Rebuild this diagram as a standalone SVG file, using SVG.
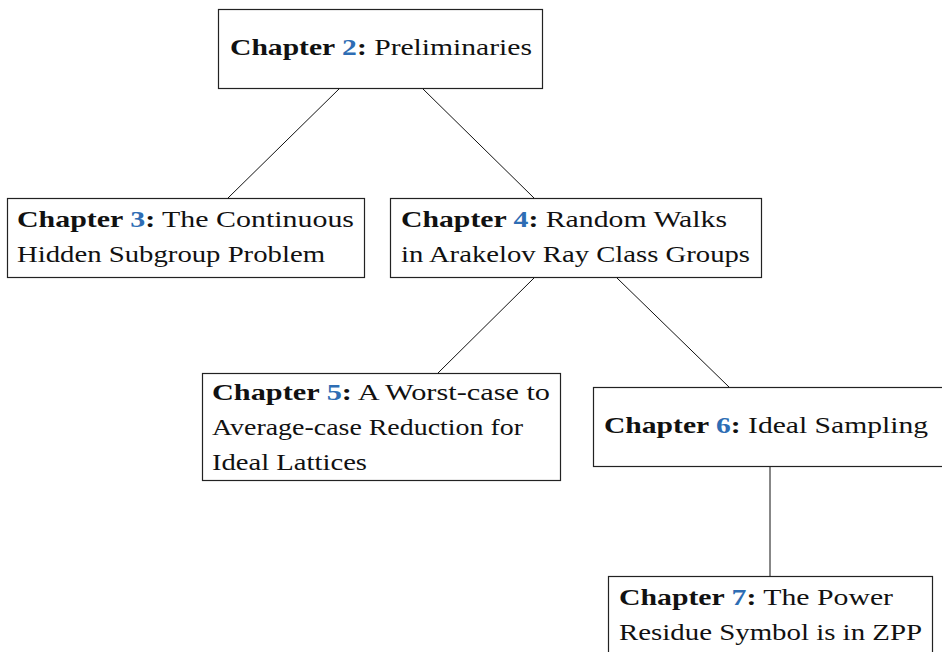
<svg xmlns="http://www.w3.org/2000/svg" width="942" height="652" viewBox="0 0 942 652">
<style>
.box{fill:#fff;stroke:#222;stroke-width:1.2}
.edge{stroke:#111;stroke-width:1;fill:none}
text{font-size:24px;fill:#111}
.b{font-weight:bold}
.n{fill:#2e6db4;font-weight:bold}
</style>
<rect width="942" height="652" fill="#fff"/>
<g id="connectors">
<line class="edge" x1="340" y1="88" x2="228" y2="198"/>
<line class="edge" x1="422" y1="88" x2="534" y2="198"/>
<line class="edge" x1="534" y1="278" x2="438" y2="373"/>
<line class="edge" x1="617" y1="278" x2="729" y2="387"/>
<line class="edge" x1="770" y1="467" x2="770" y2="576"/>
</g>
<g font-family="Liberation Serif, Tinos, serif">
<g id="ch2">
<rect class="box" x="218.5" y="9.5" width="324" height="79"/>
<text x="230" y="55" textLength="302" lengthAdjust="spacingAndGlyphs"><tspan class="b">Chapter </tspan><tspan class="n">2</tspan><tspan class="b">:</tspan> Preliminaries</text>
</g>
<g id="ch3">
<rect class="box" x="7.5" y="198.5" width="357" height="79"/>
<text x="17" y="227" textLength="337" lengthAdjust="spacingAndGlyphs"><tspan class="b">Chapter </tspan><tspan class="n">3</tspan><tspan class="b">:</tspan> The Continuous</text>
<text x="17" y="262" textLength="308" lengthAdjust="spacingAndGlyphs">Hidden Subgroup Problem</text>
</g>
<g id="ch4">
<rect class="box" x="390.5" y="198.5" width="371" height="79"/>
<text x="401" y="227" textLength="326" lengthAdjust="spacingAndGlyphs"><tspan class="b">Chapter </tspan><tspan class="n">4</tspan><tspan class="b">:</tspan> Random Walks</text>
<text x="401" y="262" textLength="349" lengthAdjust="spacingAndGlyphs">in Arakelov Ray Class Groups</text>
</g>
<g id="ch5">
<rect class="box" x="202.5" y="373.5" width="358" height="107"/>
<text x="212" y="400" textLength="338" lengthAdjust="spacingAndGlyphs"><tspan class="b">Chapter </tspan><tspan class="n">5</tspan><tspan class="b">:</tspan> A Worst-case to</text>
<text x="212" y="435" textLength="311" lengthAdjust="spacingAndGlyphs">Average-case Reduction for</text>
<text x="212" y="470" textLength="155" lengthAdjust="spacingAndGlyphs">Ideal Lattices</text>
</g>
<g id="ch6">
<rect class="box" x="593.5" y="387.5" width="360" height="79"/>
<text x="604" y="433" textLength="324" lengthAdjust="spacingAndGlyphs"><tspan class="b">Chapter </tspan><tspan class="n">6</tspan><tspan class="b">:</tspan> Ideal Sampling</text>
</g>
<g id="ch7">
<rect class="box" x="608.5" y="576.5" width="324" height="90"/>
<text x="619" y="605" textLength="274" lengthAdjust="spacingAndGlyphs"><tspan class="b">Chapter </tspan><tspan class="n">7</tspan><tspan class="b">:</tspan> The Power</text>
<text x="619" y="640" textLength="303" lengthAdjust="spacingAndGlyphs">Residue Symbol is in ZPP</text>
</g>
</g>
</svg>
